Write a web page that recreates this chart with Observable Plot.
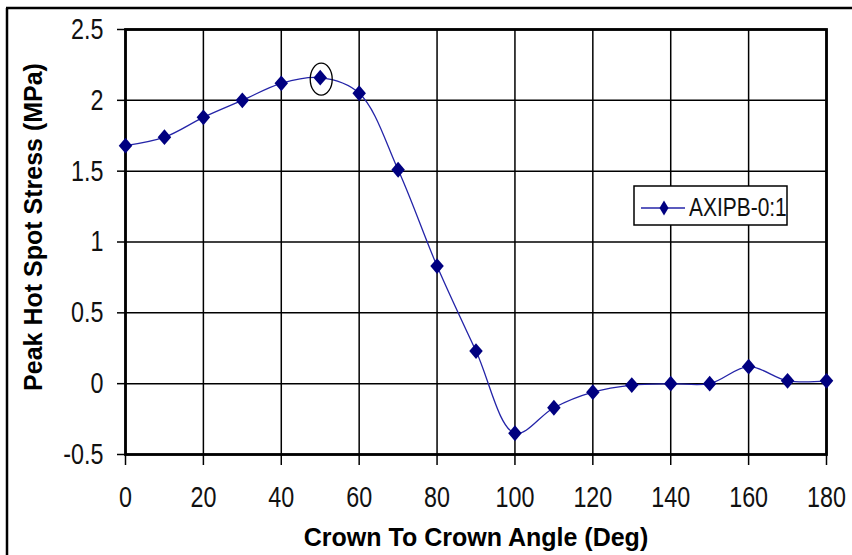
<!DOCTYPE html>
<html>
<head>
<meta charset="utf-8">
<script src="https://cdn.jsdelivr.net/npm/d3@7"></script>
<script src="https://cdn.jsdelivr.net/npm/@observablehq/plot@0.6"></script>
<style>
  html, body { margin: 0; padding: 0; background: #fff; }
  #chart { width: 852px; height: 555px; position: relative; }
</style>
</head>
<body>
<div id="chart"></div>
<script>
const angles = [0, 10, 20, 30, 40, 50, 60, 70, 80, 90, 100, 110, 120, 130, 140, 150, 160, 170, 180];
const stress = [1.68, 1.74, 1.88, 2.00, 2.12, 2.16, 2.05, 1.51, 0.83, 0.23, -0.35, -0.17, -0.06, -0.01, 0.00, 0.00, 0.12, 0.02, 0.02];
const xTicks = [0, 20, 40, 60, 80, 100, 120, 140, 160, 180];
const yTicks = [-0.5, 0, 0.5, 1, 1.5, 2, 2.5];
const seriesName = "AXIPB-0:1";
const xTitle = "Crown To Crown Angle (Deg)";
const yTitle = "Peak Hot Spot Stress (MPa)";
const highlightAngle = 50;

const data = angles.map((a, i) => ({angle: a, stress: stress[i]}));

const narrow = "'Liberation Sans',Arial,sans-serif";
const bold = "'Liberation Sans',Arial,sans-serif";
const squeeze = 0.79;

// custom diamond symbol (slightly taller than wide)
const diamond = {
  draw(ctx, size) {
    const w = Math.sqrt(size) * 0.56, h = Math.sqrt(size) * 0.66;
    ctx.moveTo(0, -h); ctx.lineTo(w, 0); ctx.lineTo(0, h); ctx.lineTo(-w, 0); ctx.closePath();
  }
};

const plot = Plot.plot({
  width: 852,
  height: 555,
  marginLeft: 125,
  marginRight: 26,
  marginTop: 29,
  marginBottom: 101,
  style: {background: "#fff", overflow: "visible"},
  x: {domain: [0, 180]},
  y: {domain: [-0.5, 2.5]},
  marks: [
    Plot.gridX(xTicks, {stroke: "#000", strokeOpacity: 1, strokeWidth: 1.5}),
    Plot.gridY(yTicks, {stroke: "#000", strokeOpacity: 1, strokeWidth: 1.5}),
    Plot.axisX(xTicks, {
      tickSize: 11, tickPadding: 21, tickFormat: d => String(d),
      fontSize: 29.5, fontFamily: narrow, fill: "#111", label: null, strokeWidth: 1.5
    }),
    Plot.axisY(yTicks, {
      tickSize: 8, tickPadding: 14, tickFormat: d => String(d),
      fontSize: 29.5, fontFamily: narrow, fill: "#111", label: null, strokeWidth: 1.5
    }),
    Plot.frame({stroke: "#000", strokeWidth: 2.8}),
    Plot.line(data, {x: "angle", y: "stress", curve: "catmull-rom", stroke: "#2424a8", strokeWidth: 1.3}),
    Plot.dot(data, {x: "angle", y: "stress", symbol: diamond, r: 6.8, fill: "#000080", stroke: "none"}),
    Plot.text([xTitle], {frameAnchor: "bottom", dx: 0, dy: 91, text: d => d, textAnchor: "middle", fontSize: 25, fontWeight: "bold", fontFamily: bold, fill: "#000", lineAnchor: "bottom"}),
    Plot.text([yTitle], {frameAnchor: "left", dx: -92, dy: -15, rotate: -90, text: d => d, textAnchor: "middle", fontSize: 25, fontWeight: "bold", fontFamily: bold, fill: "#000"})
  ]
});

document.getElementById("chart").appendChild(plot);

// Narrow tick labels (Arial Narrow look)
plot.querySelectorAll('g[aria-label="x-axis tick label"] text, g[aria-label="y-axis tick label"] text').forEach(t => {
  const tr = t.getAttribute("transform") || "";
  t.setAttribute("transform", tr + ` scale(${squeeze},1)`);
});

// Decorations: outer frame (cropped), highlight ellipse, legend
const ns = "http://www.w3.org/2000/svg";
function el(tag, attrs, parent) {
  const e = document.createElementNS(ns, tag);
  for (const k in attrs) e.setAttribute(k, attrs[k]);
  (parent || plot).appendChild(e);
  return e;
}
el("line", {x1: 7, y1: 8, x2: 7, y2: 555, stroke: "#000", "stroke-width": 2.5});
el("line", {x1: 6, y1: 8, x2: 852, y2: 8, stroke: "#000", "stroke-width": 2.5});

const sx = plot.scale("x"), sy = plot.scale("y");
const hi = data.find(d => d.angle === highlightAngle);
el("ellipse", {cx: sx.apply(hi.angle) + 1.5, cy: sy.apply(hi.stress) + 2, rx: 11, ry: 16, fill: "none", stroke: "#000", "stroke-width": 1.3});

const lg = el("g", {"text-anchor": "start"});
el("rect", {x: 634, y: 186, width: 153, height: 39, fill: "#fff", stroke: "#000", "stroke-width": 1.5}, lg);
el("line", {x1: 641, y1: 208, x2: 685, y2: 208, stroke: "#2424a8", "stroke-width": 1.3}, lg);
el("path", {d: "M664,200.5L668.5,208L664,215.5L659.5,208Z", fill: "#000080", stroke: "none"}, lg);
const t = el("text", {x: 0, y: 0, transform: `translate(689,216) scale(${squeeze},1)`, "text-anchor": "start", "font-size": 26.5, "font-family": narrow, fill: "#111"}, lg);
t.textContent = seriesName;
</script>
</body>
</html>
